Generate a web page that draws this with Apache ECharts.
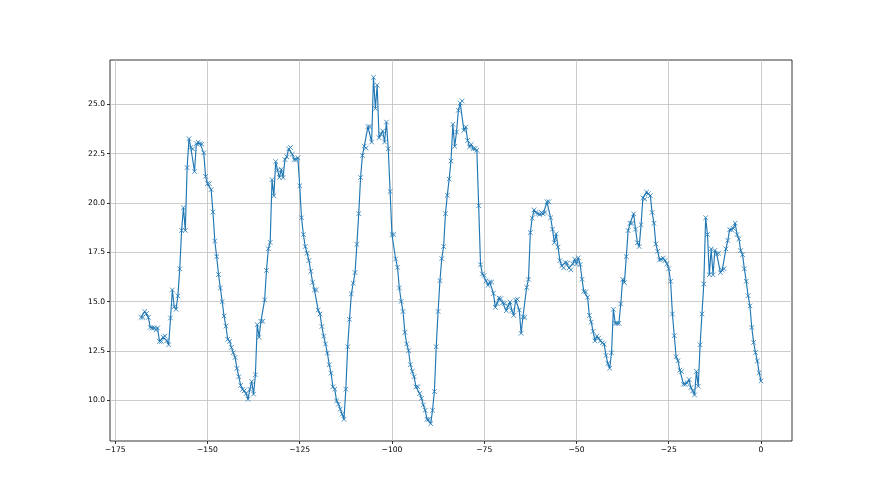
<!DOCTYPE html>
<html>
<head>
<meta charset="utf-8">
<script src="https://cdn.jsdelivr.net/npm/echarts@6/dist/echarts.min.js"></script>
<style>html,body{margin:0;padding:0;background:#fff}#c{width:880px;height:495px}</style>
</head>
<body>
<div id="c"></div>
<script>
// time axis: hours, first sample and sampling step
var startHour = -168;
var stepHour = 0.5;
// temperature readings (one per half hour)
var temps = [
14.20, 14.20, 14.50, 14.40, 14.20, 13.69, 13.66, 13.66, 13.56, 13.66,
12.98, 12.98, 13.19, 13.25, 13.02, 12.81, 14.17, 15.59, 14.74, 14.61,
15.29, 16.66, 18.61, 19.76, 18.61, 21.79, 23.26, 22.81, 22.74, 21.59,
23.01, 23.08, 23.01, 22.98, 22.54, 21.35, 20.98, 20.98, 20.68, 19.54,
18.07,
17.28, 16.37, 15.69, 15.00, 14.27, 13.76, 13.09, 12.98, 12.68, 12.41,
12.17, 11.61, 11.19, 10.75, 10.55, 10.48, 10.34, 10.05, 10.55, 10.95,
10.31, 11.29, 13.83, 13.19, 14.00, 14.00, 15.09, 16.58, 17.68, 18.00,
21.18, 20.37, 22.10, 21.66, 21.29, 21.70, 21.29, 22.20, 22.34, 22.74,
22.81, 22.47, 22.20,
22.19, 22.29, 20.87, 19.25, 18.40, 17.79, 17.45, 17.08, 16.54, 15.98,
15.59, 15.59, 14.57, 14.37, 13.74, 13.25, 12.85, 12.39, 11.80, 11.37,
10.68, 10.56, 9.97, 9.80, 9.55, 9.29, 9.03, 10.56, 12.71, 14.10,
15.39, 15.93, 16.47, 17.90, 19.46, 21.29, 22.41, 22.88, 22.78, 23.87,
23.87, 23.09, 26.37, 24.79,
25.97, 23.31, 23.48, 23.65, 23.09, 24.10, 22.75, 20.58, 18.40, 18.40,
17.16, 16.74, 15.69, 15.01, 14.50, 13.44, 12.85, 12.51, 11.80, 11.46,
11.19, 10.68, 10.68, 10.34, 10.10, 9.76, 9.49, 9.03, 9.03, 8.81,
9.49, 10.44, 12.71, 14.50, 16.06, 17.18, 17.79, 19.46, 20.39,
21.21, 22.13, 23.99, 22.87, 23.60, 24.70, 25.07, 25.17, 23.68, 23.85,
23.17, 22.84, 22.97, 22.75, 22.75, 22.67, 19.86, 16.87, 16.40, 16.33,
16.06, 15.82, 15.99, 15.99, 15.42, 14.71, 14.91, 15.18, 15.15, 14.94,
14.91, 14.54, 14.78, 14.98, 14.54, 14.30, 15.08, 15.11, 14.57, 13.39,
14.23, 14.20, 15.72, 16.13, 18.50, 19.23, 19.65,
19.52, 19.45, 19.42, 19.52, 19.45, 19.52, 20.06, 20.06, 19.25, 18.67,
17.99, 18.43, 17.76, 17.08, 16.81, 16.71, 16.98, 16.95, 16.71, 16.61,
16.91, 17.15, 16.91, 17.22, 16.88, 16.13, 15.52, 15.49, 15.22, 14.30,
13.96, 13.49, 13.01, 13.25, 13.15, 13.01, 12.91, 12.84, 12.27, 11.86,
11.62,
12.40, 14.61, 13.90, 13.90, 13.90, 14.88, 16.13, 15.96, 17.28, 18.60,
18.97, 18.97, 19.45, 18.67, 17.99, 17.79, 18.90, 20.26, 20.20, 20.55,
20.47, 20.37, 19.52, 18.97, 17.92, 17.55, 17.11, 17.15, 17.20, 17.08,
16.91, 16.67, 16.03, 14.37, 13.27, 12.20, 12.00, 11.52, 11.45, 10.81,
10.81, 10.88, 11.05, 10.64, 10.47, 10.27, 11.46, 10.71, 12.81, 14.37,
15.89, 19.25, 18.40, 16.36, 17.67, 16.36, 17.59, 17.42, 17.45, 16.47,
16.60, 16.66, 17.67, 18.10, 18.64, 18.64, 18.71, 18.98, 18.40, 18.18,
17.59, 17.38, 16.66, 16.03, 15.30, 14.78, 13.69, 12.93, 12.42, 11.99,
11.39, 10.98
];
var xTicks = [-175, -150, -125, -100, -75, -50, -25, 0];
var yTicks = [10, 12.5, 15, 17.5, 20, 22.5, 25];

var points = temps.map(function (v, i) { return [startHour + i * stepHour, v]; });
var xs = points.map(function (p) { return p[0]; });
var xLo = Math.min.apply(null, xs), xHi = Math.max.apply(null, xs);
var yLo = Math.min.apply(null, temps), yHi = Math.max.apply(null, temps);
var xPad = (xHi - xLo) * 0.05, yPad = (yHi - yLo) * 0.05;

function fmtX(v) { return String(v).replace('-', '\u2212'); }
function fmtY(v) { return Number(v).toFixed(1).replace('-', '\u2212'); }

var font = 'DejaVu Sans';
var chart = echarts.init(document.getElementById('c'), null, { renderer: 'canvas' });
chart.setOption({
  animation: false,
  backgroundColor: '#ffffff',
  grid: { left: 110, right: 88, top: 60, bottom: 54, show: true, borderColor: '#000', borderWidth: 0.8, backgroundColor: 'transparent' },
  xAxis: {
    type: 'value', min: xLo - xPad, max: xHi + xPad, position: 'bottom',
    axisLine: { show: false, onZero: false },
    axisTick: { show: true, customValues: xTicks, length: 3, lineStyle: { color: '#000', width: 0.8 } },
    axisLabel: { customValues: xTicks, formatter: fmtX, color: '#000', fontFamily: font, fontSize: 7.6, margin: 5 },
    splitLine: { show: true, lineStyle: { color: '#c0c0c0', width: 0.8 } }
  },
  yAxis: {
    type: 'value', min: yLo - yPad, max: yHi + yPad, position: 'left',
    axisLine: { show: false, onZero: false },
    axisTick: { show: true, customValues: yTicks, length: 3, lineStyle: { color: '#000', width: 0.8 } },
    axisLabel: { customValues: yTicks, formatter: fmtY, color: '#000', fontFamily: font, fontSize: 7.6, margin: 5 },
    splitLine: { show: true, lineStyle: { color: '#c0c0c0', width: 0.8 } }
  },
  series: [{
    type: 'line',
    data: points,
    symbol: 'path://M0,0L10,10M10,0L0,10',
    symbolSize: 4.6,
    itemStyle: { color: 'rgba(0,0,0,0)', borderColor: '#1f77b4', borderWidth: 0.8 },
    lineStyle: { color: '#1f77b4', width: 1.15 },
    emphasis: { disabled: true }
  }]
});
</script>
</body>
</html>
